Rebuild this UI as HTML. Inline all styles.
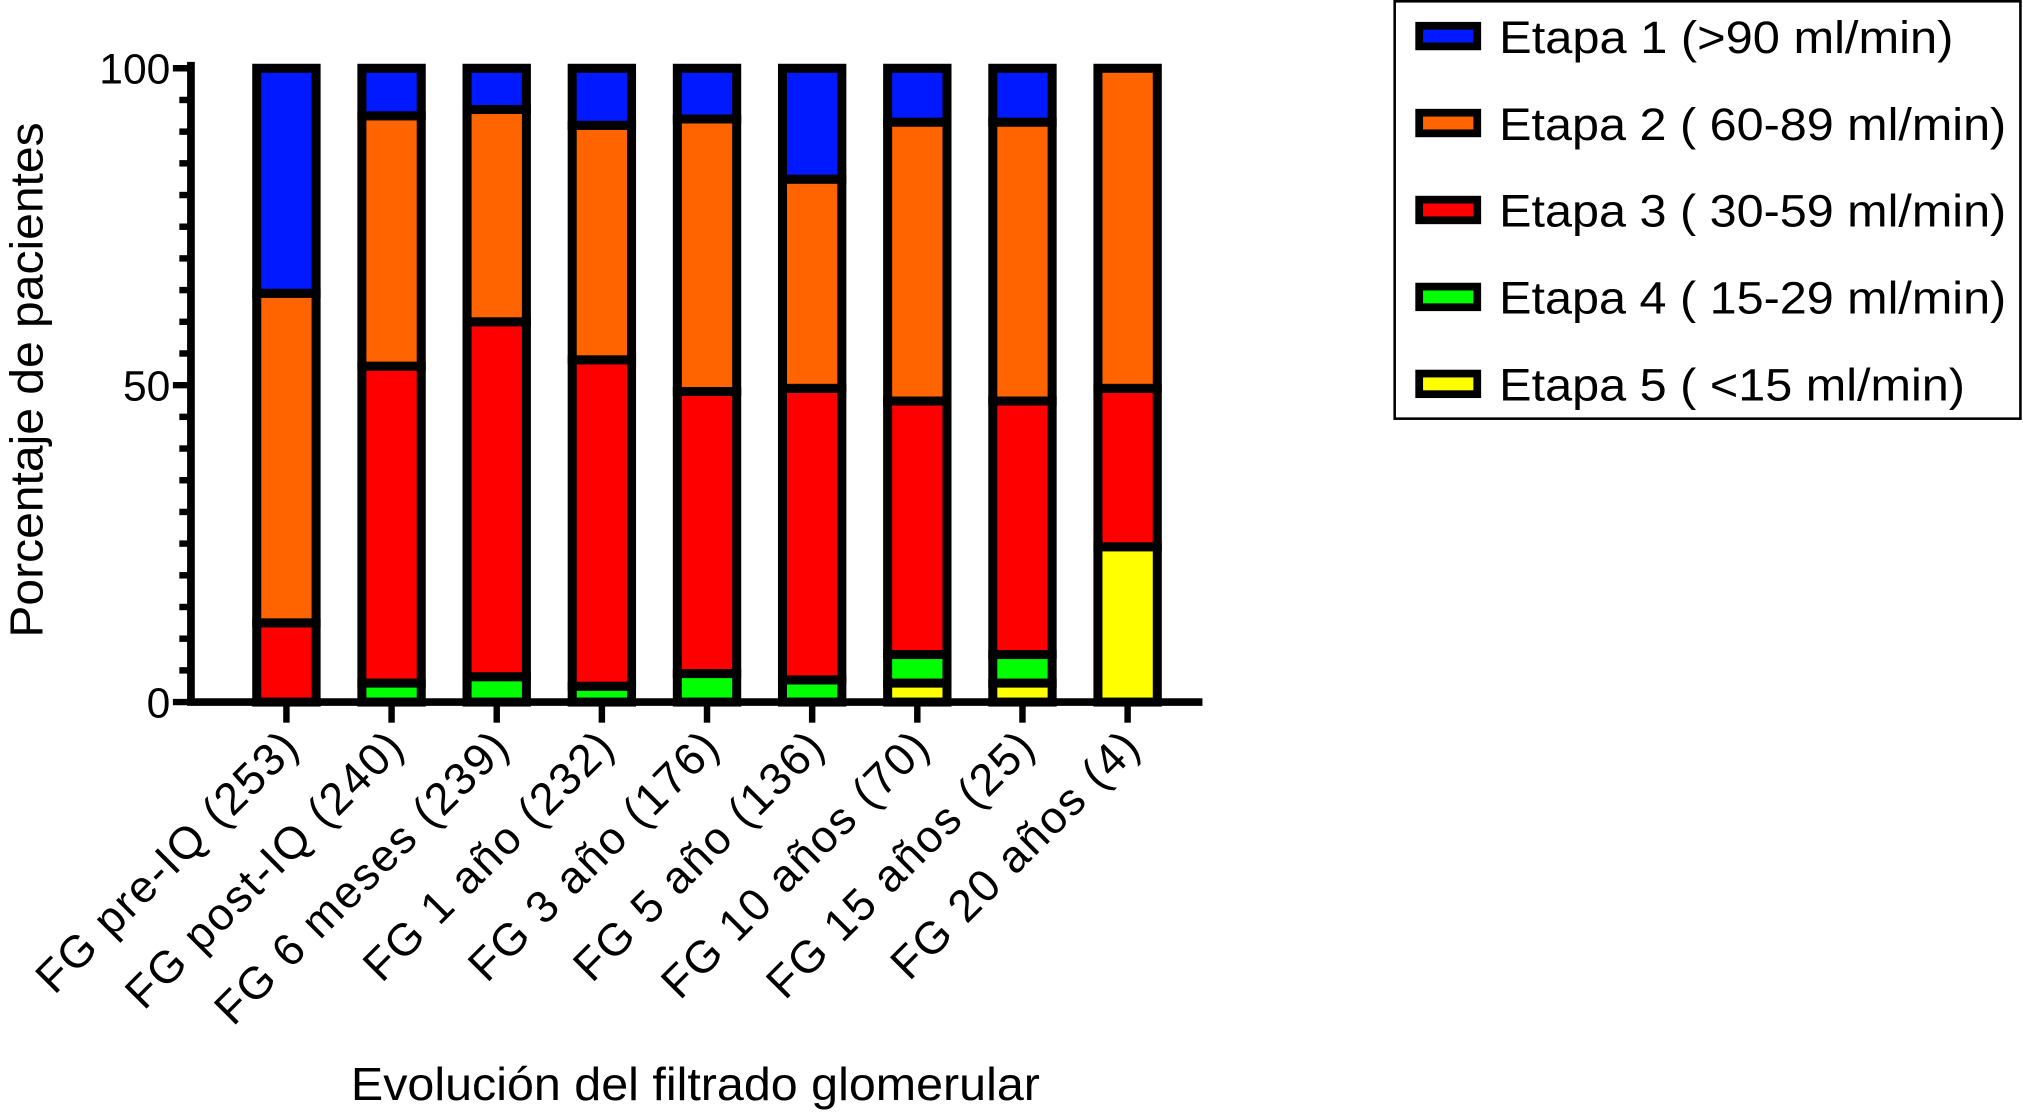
<!DOCTYPE html>
<html><head><meta charset="utf-8"><style>
html,body{margin:0;padding:0;background:#fff;}
svg{display:block;font-family:"Liberation Sans",sans-serif;}
</style></head><body>
<svg id="chart" width="2023" height="1113" viewBox="0 0 1568 864" preserveAspectRatio="none" xmlns="http://www.w3.org/2000/svg">
<g id="bars"></g>
<g id="axes"></g>
<text transform="translate(33,295) rotate(-90)" text-anchor="middle" font-size="36" textLength="400" lengthAdjust="spacingAndGlyphs">Porcentaje de pacientes</text>
<text x="539" y="854" text-anchor="middle" font-size="36" textLength="534" lengthAdjust="spacingAndGlyphs">Evolución del filtrado glomerular</text>
<g>
<rect x="1081" y="1" width="485" height="324" fill="#fff" stroke="#000" stroke-width="2"/>
<g id="legend-entries"></g>
</g>
</svg>
<script>
const categories = ["FG pre-IQ (253)","FG post-IQ (240)","FG 6 meses (239)","FG 1 año (232)","FG 3 año (176)","FG 5 año (136)","FG 10 años (70)","FG 15 años (25)","FG 20 años (4)"];
const stage5 = [0, 0, 0, 0, 0, 0, 3, 3, 24.5];
const stage4 = [0, 3, 4, 2.5, 4.5, 3.5, 4.5, 4.5, 0];
const stage3 = [12.5, 50, 56, 51.5, 44.5, 46, 40, 40, 25];
const stage2 = [52, 39.5, 33.5, 37, 43, 33, 44, 44, 50.5];
const stage1 = [35.5, 7.5, 6.5, 9, 8, 17.5, 8.5, 8.5, 0];
const yTicks = [0, 50, 100];
const seriesNames = ["Etapa 1 (>90 ml/min)","Etapa 2 ( 60-89 ml/min)","Etapa 3 ( 30-59 ml/min)","Etapa 4 ( 15-29 ml/min)","Etapa 5 ( <15 ml/min)"];
const seriesColors = ["#0019ff","#ff6400","#ff0000","#00ff00","#ffff00"];

const NS = "http://www.w3.org/2000/svg";
const plotL = 148, plotR = 932, y0 = 545, yTop = 53;
const yScale = v => y0 - (v / 100) * (y0 - yTop);
const firstC = 222, step = 81.5, barW = 46;
const xScale = i => firstC + i * step;
function mk(tag, attrs, parent){const e=document.createElementNS(NS,tag);for(const k in attrs)e.setAttribute(k,attrs[k]);parent.appendChild(e);return e;}

const bars = document.getElementById("bars");
const stacks = [stage5, stage4, stage3, stage2, stage1];
const colorsBottomUp = ["#ffff00","#00ff00","#ff0000","#ff6400","#0019ff"];
const segNames = ["stage5","stage4","stage3","stage2","stage1"];
categories.forEach((c, i) => {
  let acc = 0;
  stacks.forEach((arr, s) => {
    const v = arr[i];
    if (v <= 0) return;
    const yA = yScale(acc + v), yB = yScale(acc);
    const r = mk("rect", {x: xScale(i) - barW/2, y: yA, width: barW, height: yB - yA, fill: colorsBottomUp[s], stroke: "#000", "stroke-width": 7}, bars);
    
    
    acc += v;
  });
});

const axes = document.getElementById("axes");
let l = mk("line", {x1: plotL, y1: 48, x2: plotL, y2: y0 + 2, stroke: "#000", "stroke-width": 6}, axes);


l = mk("line", {x1: plotL - 3, y1: y0, x2: plotR, y2: y0, stroke: "#000", "stroke-width": 6}, axes);


for (let v = 0; v <= 100; v += 5) {
  const major = v % 50 === 0;
  const t = mk("line", {x1: plotL - (major ? 14 : 9), y1: yScale(v), x2: plotL, y2: yScale(v), stroke: "#000", "stroke-width": 5}, axes);
  
  
}
yTicks.forEach(v => {
  const t = mk("text", {x: 132, y: yScale(v) + 12, "text-anchor": "end", "font-size": 33}, axes);
  t.textContent = v;
  
  
});
categories.forEach((c, i) => {
  const t = mk("line", {x1: xScale(i), y1: y0, x2: xScale(i), y2: y0 + 16, stroke: "#000", "stroke-width": 5}, axes);
  
  
  const tx = mk("text", {transform: `translate(${xScale(i) + 12},${y0 + 36}) rotate(-45)`, "text-anchor": "end", "font-size": 35, "letter-spacing": "1.5"}, axes);
  tx.textContent = c;
  
  
});

const leg = document.getElementById("legend-entries");
const legLens = [352, 393, 393, 393, 361];
seriesNames.forEach((n, k) => {
  const cy = 28 + k * 67.5;
  const sw = mk("rect", {x: 1100, y: cy - 8, width: 45, height: 16, fill: seriesColors[k], stroke: "#000", "stroke-width": 6}, leg);
  
  
  const t = mk("text", {x: 1162, y: cy + 13, "font-size": 35, textLength: legLens[k], lengthAdjust: "spacingAndGlyphs"}, leg);
  t.textContent = n;
  
  
});
</script>
</body></html>
